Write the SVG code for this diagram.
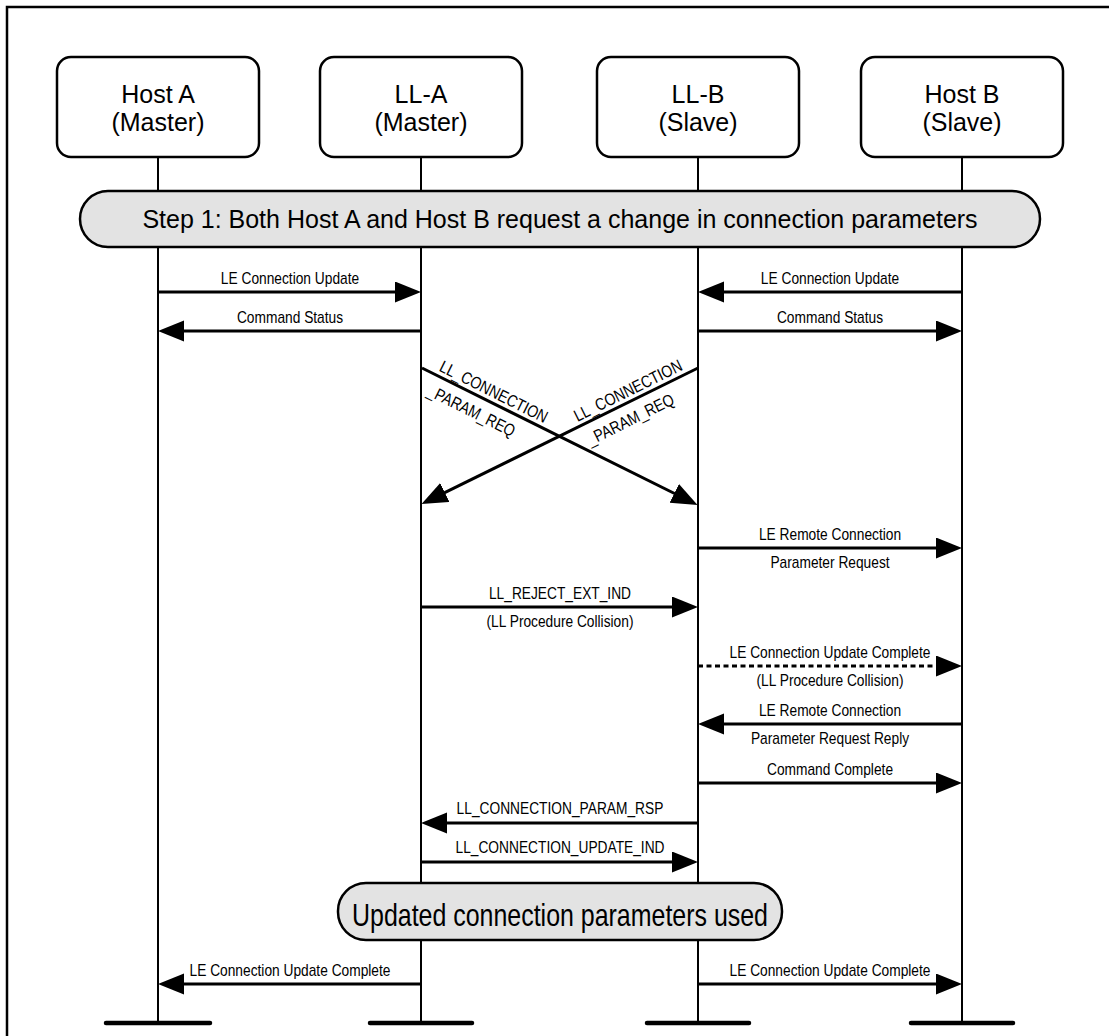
<svg xmlns="http://www.w3.org/2000/svg" width="1109" height="1036" viewBox="0 0 1109 1036">
<defs>
<marker id="ah" markerUnits="userSpaceOnUse" markerWidth="26" markerHeight="22" refX="16" refY="10.5" orient="auto">
<path d="M0,0 L26,10.5 L0,21 z" fill="#000"/>
</marker>
<style>
.box{fill:#fff;stroke:#000;stroke-width:2.5}
.ban{fill:#e3e3e3;stroke:#000;stroke-width:2.5}
.life{stroke:#000;stroke-width:2;fill:none}
.bar{stroke:#000;stroke-width:4.5;stroke-linecap:round}
.msg{stroke:#000;stroke-width:3;fill:none;marker-end:url(#ah)}
.dash{stroke-dasharray:5,3.5}
.big{font-family:"Liberation Sans",Arial,sans-serif;font-size:25px;text-anchor:middle;fill:#000}
.lbl{font-family:"Liberation Sans",Arial,sans-serif;font-size:16px;text-anchor:middle;fill:#000}
.rl{font-family:"Liberation Sans",Arial,sans-serif;font-size:17px;fill:#000}
</style>
</defs>
<rect x="7" y="7" width="1120" height="1050" fill="none" stroke="#000" stroke-width="2.5"/>
<g id="lifelines">
<line class="life" x1="158" y1="157" x2="158" y2="1023"/>
<line class="life" x1="421" y1="157" x2="421" y2="1023"/>
<line class="life" x1="698" y1="157" x2="698" y2="1023"/>
<line class="life" x1="962" y1="157" x2="962" y2="1023"/>
<line class="bar" x1="106" y1="1023" x2="210" y2="1023"/>
<line class="bar" x1="370" y1="1023" x2="472" y2="1023"/>
<line class="bar" x1="647" y1="1023" x2="749" y2="1023"/>
<line class="bar" x1="911" y1="1023" x2="1013" y2="1023"/>
</g>
<g id="hostA">
<rect class="box" x="57" y="57" width="202" height="100" rx="14"/>
<text class="big" x="158" y="103">Host A</text>
<text class="big" x="158" y="131">(Master)</text>
</g>
<g id="llA">
<rect class="box" x="320" y="57" width="202" height="100" rx="14"/>
<text class="big" x="421" y="103">LL-A</text>
<text class="big" x="421" y="131">(Master)</text>
</g>
<g id="llB">
<rect class="box" x="597" y="57" width="202" height="100" rx="14"/>
<text class="big" x="698" y="103">LL-B</text>
<text class="big" x="698" y="131">(Slave)</text>
</g>
<g id="hostB">
<rect class="box" x="861" y="57" width="202" height="100" rx="14"/>
<text class="big" x="962" y="103">Host B</text>
<text class="big" x="962" y="131">(Slave)</text>
</g>
<g id="step1">
<rect class="ban" x="80" y="191" width="960" height="56" rx="28"/>
<text class="big" x="560" y="228">Step 1: Both Host A and Host B request a change in connection parameters</text>
</g>
<g id="updated">
<rect class="ban" x="338" y="883" width="444" height="57" rx="28"/>
<text class="big" transform="translate(560,926) scale(0.805,1)" style="font-size:31px">Updated connection parameters used</text>
</g>
<g id="connectors">
<line class="msg" x1="158" y1="292" x2="411" y2="292"/>
<text class="lbl" transform="translate(290,284) scale(0.86,1)">LE Connection Update</text>
<line class="msg" x1="962" y1="292" x2="708" y2="292"/>
<text class="lbl" transform="translate(830,284) scale(0.86,1)">LE Connection Update</text>
<line class="msg" x1="421" y1="331" x2="168" y2="331"/>
<text class="lbl" transform="translate(290,323) scale(0.86,1)">Command Status</text>
<line class="msg" x1="698" y1="331" x2="952" y2="331"/>
<text class="lbl" transform="translate(830,323) scale(0.86,1)">Command Status</text>
<line class="msg" x1="422" y1="368" x2="688.6" y2="500.5"/>
<line class="msg" x1="698" y1="368" x2="430.5" y2="499.6"/>
<g transform="translate(422,368) rotate(26.5)">
<text class="rl" transform="scale(0.83,1)" x="19" y="-5">LL_CONNECTION</text>
<text class="rl" transform="scale(0.83,1)" x="19" y="22">_PARAM_REQ</text>
</g>
<g transform="translate(698,368) rotate(-26.3)">
<text class="rl" transform="scale(0.83,1)" x="-159" y="-5">LL_CONNECTION</text>
<text class="rl" transform="scale(0.83,1)" x="-158" y="22">_PARAM_REQ</text>
</g>
<line class="msg" x1="698" y1="548" x2="952" y2="548"/>
<text class="lbl" transform="translate(830,540) scale(0.86,1)">LE Remote Connection</text>
<text class="lbl" transform="translate(830,568) scale(0.86,1)">Parameter Request</text>
<line class="msg" x1="421" y1="607" x2="688" y2="607"/>
<text class="lbl" transform="translate(560,599) scale(0.86,1)">LL_REJECT_EXT_IND</text>
<text class="lbl" transform="translate(560,627) scale(0.86,1)">(LL Procedure Collision)</text>
<line class="msg dash" x1="698" y1="666" x2="952" y2="666"/>
<text class="lbl" transform="translate(830,658) scale(0.86,1)">LE Connection Update Complete</text>
<text class="lbl" transform="translate(830,686) scale(0.86,1)">(LL Procedure Collision)</text>
<line class="msg" x1="962" y1="724" x2="708" y2="724"/>
<text class="lbl" transform="translate(830,716) scale(0.86,1)">LE Remote Connection</text>
<text class="lbl" transform="translate(830,744) scale(0.86,1)">Parameter Request Reply</text>
<line class="msg" x1="698" y1="783" x2="952" y2="783"/>
<text class="lbl" transform="translate(830,775) scale(0.86,1)">Command Complete</text>
<line class="msg" x1="698" y1="823" x2="431" y2="823"/>
<text class="lbl" transform="translate(560,814) scale(0.86,1)">LL_CONNECTION_PARAM_RSP</text>
<line class="msg" x1="421" y1="862" x2="688" y2="862"/>
<text class="lbl" transform="translate(560,853) scale(0.86,1)">LL_CONNECTION_UPDATE_IND</text>
<line class="msg" x1="421" y1="984" x2="168" y2="984"/>
<text class="lbl" transform="translate(290,976) scale(0.86,1)">LE Connection Update Complete</text>
<line class="msg" x1="698" y1="984" x2="952" y2="984"/>
<text class="lbl" transform="translate(830,976) scale(0.86,1)">LE Connection Update Complete</text>
</g>
</svg>
